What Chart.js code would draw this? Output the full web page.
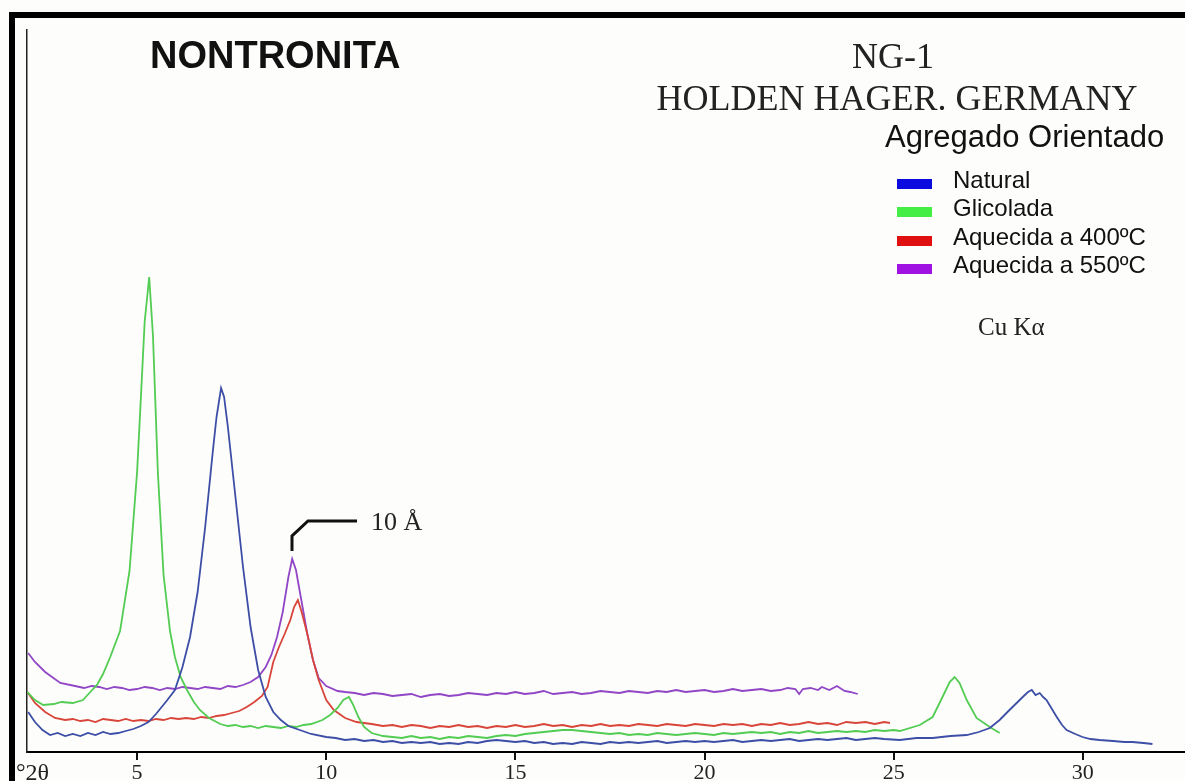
<!DOCTYPE html>
<html>
<head>
<meta charset="utf-8">
<script src="https://cdn.jsdelivr.net/npm/chart.js@4"></script>
<style>
  html, body { margin: 0; padding: 0; background: #fdfdfb; }
  #wrap { position: relative; width: 1185px; height: 781px; }
</style>
</head>
<body>
<div id="wrap"><canvas id="xrd" width="1185" height="781"></canvas></div>
<script>
// Diffractogram of nontronite NG-1, oriented mount, Cu K-alpha.
// Each trace is [2theta, counts].
const natural = [
  [2.12,40],[2.3,30],[2.5,22],[2.7,17],[2.9,19],[3.1,16],[3.3,18],[3.5,16],[3.7,19],[3.9,17],
  [4.1,20],[4.3,18],[4.5,19],[4.7,21],[4.9,23],[5.1,26],[5.3,30],[5.5,38],[5.8,52],[6.0,62],
  [6.2,85],[6.4,115],[6.6,160],[6.8,225],[7.0,300],[7.1,335],[7.22,364],[7.3,355],[7.4,325],[7.6,255],
  [7.8,185],[8.0,125],[8.2,82],[8.4,55],[8.6,40],[8.8,32],[9.0,26],[9.3,22],[9.6,18],[10.0,15],
  [10.25,14],[10.5,12],[10.75,13],[11,11],[11.25,12],[11.5,10],[11.75,11],[12,9],[12.25,10],[12.5,9],
  [12.75,10],[13,8],[13.25,9],[13.5,8],[13.75,10],[14,9],[14.25,11],[14.5,12],[14.75,11],[15,10],
  [15.25,11],[15.5,9],[15.75,10],[16,8],[16.25,9],[16.5,8],[16.75,10],[17,9],[17.25,8],[17.5,10],
  [17.75,9],[18,10],[18.25,9],[18.5,10],[18.75,11],[19,9],[19.25,10],[19.5,11],[19.75,10],[20,11],
  [20.25,10],[20.5,11],[20.75,12],[21,10],[21.25,11],[21.5,12],[21.75,11],[22,12],[22.25,13],[22.5,11],
  [22.75,12],[23,13],[23.25,12],[23.5,13],[23.75,14],[24,12],[24.25,13],[24.5,14],[24.75,13],[25.16,12],
  [25.6,14],[26.03,14],[26.5,16],[26.93,17],[27.25,20],[27.54,24],[27.8,32],[28.06,42],[28.25,49],[28.41,55],
  [28.55,60],[28.65,62],[28.75,57],[28.86,59],[28.95,55],[29.04,52],[29.15,45],[29.31,35],[29.45,27],[29.57,22],
  [29.8,18],[29.99,15],[30.2,13],[30.44,12],[30.8,11],[31.1,10],[31.31,10],[31.6,9],[31.84,8]
];
const glicolada = [
  [2.1,60],[2.3,52],[2.52,47],[2.8,48],[3.0,50],[3.3,49],[3.57,52],[3.81,62],[3.94,67],[4.1,78],
  [4.29,95],[4.55,121],[4.8,181],[5.0,280],[5.1,354],[5.2,430],[5.32,475],[5.42,416],[5.55,279],[5.7,177],
  [5.87,121],[6.0,95],[6.15,75],[6.32,62],[6.5,50],[6.66,42],[6.9,34],[7.2,28],[7.4,26],[7.6,27],
  [7.8,25],[8.0,26],[8.2,24],[8.4,26],[8.6,25],[8.8,24],[9.0,26],[9.2,25],[9.4,27],[9.6,28],
  [9.9,32],[10.1,37],[10.3,44],[10.45,52],[10.6,55],[10.7,48],[10.85,35],[11.0,25],[11.2,19],[11.5,16],
  [11.75,15],[12,14],[12.25,16],[12.5,14],[12.75,15],[13,13],[13.25,15],[13.5,14],[13.75,16],[14,15],
  [14.25,14],[14.5,16],[14.75,17],[15,16],[15.25,18],[15.5,19],[15.75,20],[16,21],[16.25,22],[16.5,22],
  [16.75,21],[17,20],[17.25,19],[17.5,18],[17.75,19],[18,17],[18.25,18],[18.5,17],[18.75,19],[19,18],
  [19.25,17],[19.5,18],[19.75,19],[20,18],[20.25,17],[20.5,19],[20.75,18],[21,19],[21.25,20],[21.5,19],
  [21.75,20],[22,18],[22.25,20],[22.5,19],[22.75,21],[23,19],[23.25,20],[23.5,21],[23.75,20],[24,21],
  [24.25,20],[24.5,22],[24.75,21],[25.0,22],[25.16,21],[25.69,27],[26.03,35],[26.29,55],[26.48,70],[26.61,75],
  [26.74,69],[26.93,52],[27.19,34],[27.54,25],[27.8,19]
];
const heated400 = [
  [2.1,60],[2.3,49],[2.57,40],[2.83,34],[3.1,32],[3.3,33],[3.5,31],[3.7,32],[3.9,30],[4.1,33],
  [4.3,32],[4.5,31],[4.7,33],[4.9,31],[5.1,32],[5.3,31],[5.5,33],[5.7,32],[5.9,34],[6.1,33],
  [6.3,34],[6.5,33],[6.7,35],[6.9,34],[7.1,36],[7.3,37],[7.5,39],[7.7,41],[7.9,45],[8.1,50],
  [8.3,56],[8.45,65],[8.6,90],[8.75,105],[8.9,118],[9.05,132],[9.15,145],[9.25,152],[9.35,140],[9.5,118],
  [9.65,92],[9.8,72],[10.0,52],[10.2,42],[10.5,34],[10.8,30],[11.2,28],[11.5,26],[11.75,27],[12,25],
  [12.25,27],[12.5,26],[12.75,24],[13,26],[13.25,25],[13.5,27],[13.75,25],[14,26],[14.25,24],[14.5,26],
  [14.75,25],[15,27],[15.25,25],[15.5,26],[15.75,28],[16,26],[16.25,27],[16.5,25],[16.75,27],[17,26],
  [17.25,28],[17.5,26],[17.75,27],[18,26],[18.25,28],[18.5,27],[18.75,26],[19,28],[19.25,27],[19.5,26],
  [19.75,28],[20,27],[20.25,26],[20.5,28],[20.75,27],[21,28],[21.25,26],[21.5,28],[21.75,27],[22,29],
  [22.25,27],[22.5,28],[22.75,30],[23,28],[23.25,29],[23.5,27],[23.75,30],[24,29],[24.25,30],[24.5,28],
  [24.75,30],[24.9,29]
];
const heated550 = [
  [2.12,99],[2.3,90],[2.57,80],[2.97,69],[3.36,66],[3.6,64],[3.8,66],[4.0,65],[4.2,63],[4.4,65],
  [4.6,64],[4.8,62],[5.0,63],[5.2,65],[5.4,64],[5.6,62],[5.8,64],[6.0,63],[6.2,65],[6.4,64],
  [6.6,63],[6.8,65],[7.0,64],[7.2,63],[7.4,66],[7.6,65],[7.8,67],[8.0,70],[8.2,75],[8.4,85],
  [8.55,97],[8.7,115],[8.85,140],[9.0,175],[9.1,193],[9.2,182],[9.35,150],[9.5,118],[9.65,92],[9.8,74],
  [10.0,66],[10.3,61],[10.5,60],[10.75,59],[11,57],[11.25,59],[11.5,58],[11.75,56],[12,57],[12.25,58],
  [12.5,55],[12.75,57],[13,58],[13.25,56],[13.5,57],[13.75,59],[14,58],[14.25,57],[14.5,59],[14.75,58],
  [15,60],[15.25,58],[15.5,59],[15.75,61],[16,58],[16.25,59],[16.5,60],[16.75,58],[17,59],[17.25,61],
  [17.5,60],[17.75,59],[18,61],[18.25,60],[18.5,59],[18.75,61],[19,60],[19.25,62],[19.5,60],[19.75,61],
  [20,62],[20.25,60],[20.5,61],[20.75,63],[21,61],[21.25,62],[21.5,63],[21.75,61],[22,62],[22.2,64],
  [22.4,63],[22.5,58],[22.6,63],[22.8,64],[23.0,62],[23.1,65],[23.3,62],[23.5,66],[23.7,61],[23.85,60],
  [24.05,58]
];

const seriesLabels = ['Natural', 'Glicolada', 'Aquecida a 400ºC', 'Aquecida a 550ºC'];
const lineColors = ['#3d4ea6', '#52cc52', '#d8453a', '#9146c6'];
const swatchColors = ['#0b0be0', '#44ee44', '#e01010', '#a012e2'];
const xTicks = [5, 10, 15, 20, 25, 30];
const peak10A = 9.1; // 10 Å reflection of the 550ºC trace

const toPoints = rows => rows.map(r => ({ x: r[0], y: r[1] }));
const traces = [natural, glicolada, heated400, heated550];

const serif = '"Liberation Serif", "DejaVu Serif", serif';
const sans = '"Liberation Sans", Arial, sans-serif';

const decorations = {
  id: 'decorations',
  beforeDraw(chart) {
    const ctx = chart.ctx;
    ctx.save();
    ctx.fillStyle = '#fdfdfb';
    ctx.fillRect(0, 0, chart.width, chart.height);
    ctx.restore();
  },
  afterDraw(chart) {
    const ctx = chart.ctx;
    const xs = chart.scales.x, ys = chart.scales.y;
    ctx.save();

    // heavy frame on top and left
    ctx.fillStyle = '#000';
    ctx.fillRect(9, 12, 6, chart.height - 12);
    ctx.fillRect(9, 12, chart.width - 9, 6);

    ctx.fillStyle = '#111';
    ctx.textBaseline = 'alphabetic';
    ctx.font = 'bold 38px ' + sans;
    ctx.textAlign = 'left';
    ctx.fillText('NONTRONITA', 150, 68);

    ctx.fillStyle = '#222';
    ctx.font = '36px ' + serif;
    ctx.textAlign = 'center';
    ctx.fillText('NG-1', 893, 68);
    ctx.fillText('HOLDEN HAGER. GERMANY', 897, 110);

    ctx.fillStyle = '#111';
    ctx.font = '31px ' + sans;
    ctx.textAlign = 'left';
    ctx.fillText('Agregado Orientado', 885, 147);

    // legend
    ctx.font = '24px ' + sans;
    const rows = [181, 209, 238, 266];
    seriesLabels.forEach((label, i) => {
      ctx.fillStyle = swatchColors[i];
      ctx.fillRect(897, rows[i] - 2, 35, 10);
      ctx.fillStyle = '#111';
      ctx.textBaseline = 'middle';
      ctx.fillText(label, 953, rows[i]);
    });

    ctx.textBaseline = 'alphabetic';
    ctx.fillStyle = '#222';
    ctx.font = '25px ' + serif;
    ctx.fillText('Cu K\u03B1', 978, 335);

    // leader for the 10 Å peak
    const px = Math.round(xs.getPixelForValue(peak10A));
    const py = ys.getPixelForValue(193);
    ctx.strokeStyle = '#111';
    ctx.lineWidth = 3;
    ctx.beginPath();
    ctx.moveTo(px, py - 8);
    ctx.lineTo(px, py - 23);
    ctx.lineTo(px + 16, py - 38);
    ctx.lineTo(px + 65, py - 38);
    ctx.stroke();
    ctx.font = '26px ' + serif;
    ctx.fillText('10 Å', px + 79, py - 29);

    // axis unit
    ctx.font = '24px ' + serif;
    ctx.fillText('°2θ', 16, 780);
    ctx.restore();
  }
};

new Chart(document.getElementById('xrd'), {
  type: 'line',
  data: {
    datasets: traces.map((rows, i) => ({
      label: seriesLabels[i],
      data: toPoints(rows),
      borderColor: lineColors[i],
      borderWidth: 1.8,
      pointRadius: 0,
      tension: 0,
      fill: false
    }))
  },
  options: {
    responsive: false,
    animation: false,
    layout: { padding: { left: 27, top: 30, right: 0, bottom: 0 } },
    plugins: { legend: { display: false }, tooltip: { enabled: false } },
    scales: {
      x: {
        type: 'linear',
        min: 2.09,
        max: 32.7,
        afterBuildTicks: s => { s.ticks = xTicks.map(v => ({ value: v })); },
        afterFit: s => { s.height = 29; },
        border: { color: '#000', width: 2 },
        grid: { drawOnChartArea: false, drawTicks: true, tickLength: 8, color: '#111', lineWidth: 2 },
        ticks: { font: { family: serif, size: 22 }, color: '#222', padding: 0, maxRotation: 0 }
      },
      y: {
        min: 0,
        max: 722,
        afterFit: s => { s.width = 0; },
        border: { color: '#222', width: 1.5 },
        grid: { drawOnChartArea: false, drawTicks: false },
        ticks: { display: false }
      }
    }
  },
  plugins: [decorations]
});
</script>
</body>
</html>
